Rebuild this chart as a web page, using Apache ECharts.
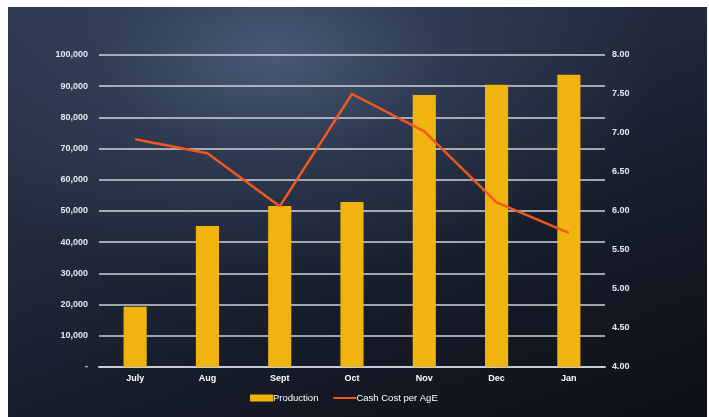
<!DOCTYPE html>
<html><head><meta charset="utf-8">
<script src="https://cdn.jsdelivr.net/npm/echarts@6/dist/echarts.min.js"></script>
<style>
html,body{margin:0;padding:0;background:#fff;width:709px;height:417px;overflow:hidden;}
#bg{position:absolute;left:8px;top:7px;width:699px;height:410px;
background:
radial-gradient(ellipse 55% 55% at 38% 12%, rgba(85,103,135,0.75) 0%, rgba(58,72,100,0.5) 45%, rgba(30,38,56,0) 100%),
linear-gradient(160deg, #2c374e 0%, #222b3e 35%, #161c29 65%, #0d1018 100%);}
#c{position:absolute;left:0;top:0;width:709px;height:417px;}
</style></head>
<body><div id="bg"></div><div id="c"></div>
<script>
const categories = ['July','Aug','Sept','Oct','Nov','Dec','Jan'];
const production = [19300, 45200, 51600, 52900, 87200, 90500, 93700];
const cashCost = [6.92, 6.74, 6.06, 7.50, 7.02, 6.11, 5.72];

const chart = echarts.init(document.getElementById('c'), null, {renderer:'canvas'});
const font = 'Liberation Sans, Arial, sans-serif';
chart.setOption({
  backgroundColor: 'transparent',
  animation: false,
  grid: {left: 99, right: 104, top: 55, bottom: 50},
  legend: {
    bottom: 14, left: 250, padding: 0, itemWidth: 23, itemHeight: 7, itemGap: 14,
    textStyle: {color: '#ffffff', fontSize: 9.5, fontFamily: font, padding: [0,0,0,-5]},
    data: [{name:'Production', icon:'rect'}, {name:'Cash Cost per AgE', itemStyle: {opacity: 0}}]
  },
  xAxis: {
    type: 'category', data: categories,
    axisLine: {lineStyle: {color: '#c8ccd2', width: 2}},
    axisTick: {show: false},
    axisLabel: {color: '#ffffff', fontSize: 9, fontWeight: 'bold', fontFamily: font, margin: 7}
  },
  yAxis: [{
    type: 'value', min: 0, max: 100000, interval: 10000,
    axisLine: {show: false}, axisTick: {show: false},
    splitLine: {lineStyle: {color: '#cfd3d9', width: 1.5}},
    axisLabel: {color: '#e4e9f1', fontSize: 9, fontWeight: 'bold', fontFamily: font, margin: 11,
      formatter: v => v === 0 ? '-' : v.toLocaleString('en-US')}
  }, {
    type: 'value', min: 4, max: 8, interval: 0.5,
    axisLine: {show: false}, axisTick: {show: false}, splitLine: {show: false},
    axisLabel: {color: '#e4e9f1', fontSize: 9, fontWeight: 'bold', fontFamily: font, margin: 7,
      formatter: v => v.toFixed(2)}
  }],
  series: [{
    name: 'Production', type: 'bar', data: production, barWidth: '32%',
    itemStyle: {color: '#f1b40f'}
  }, {
    name: 'Cash Cost per AgE', type: 'line', yAxisIndex: 1, data: cashCost,
    symbol: 'none', lineStyle: {color: '#f2581e', width: 2.5}, itemStyle: {color: '#f2581e'}
  }]
});
</script></body></html>
